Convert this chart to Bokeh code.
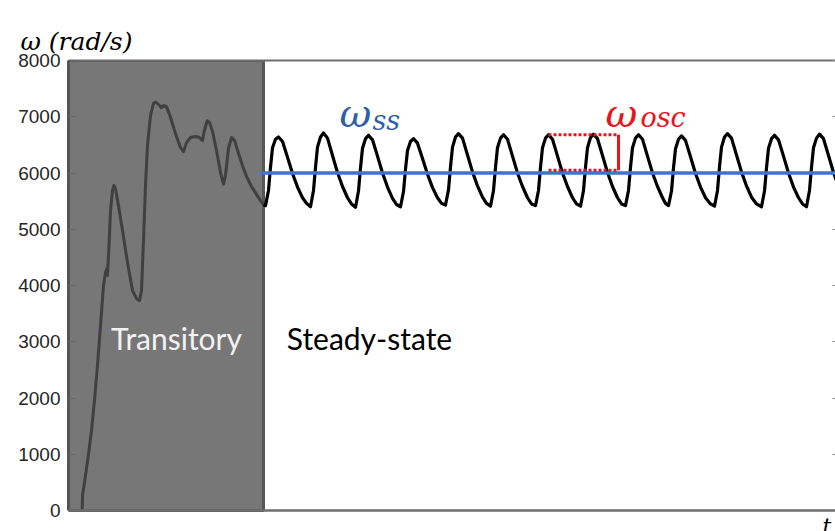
from bokeh.plotting import figure
from bokeh.models import Range1d, LinearAxis, FixedTicker, Label, Span
from bokeh.embed import file_html
from bokeh.resources import INLINE

# ---- data (time in ms, angular speed in rad/s) ----
y_ticks = [0, 1000, 2000, 3000, 4000, 5000, 6000, 7000, 8000]

trans_start = 0
trans_end = 195

t_trans = [13.7, 14, 17, 20, 23, 26, 29, 32, 35, 37, 38.5, 39, 40.5, 42, 44, 45.5, 47, 50, 54, 59,
           64, 68, 71, 73, 75, 77, 79, 82, 85, 87, 90, 93, 95, 98, 102, 107, 112, 115, 118, 122,
           127, 131, 134, 136, 138.7, 141, 144, 148, 152, 155, 157, 160, 163, 166, 170, 174, 178,
           183, 188, 192, 195]
w_trans = [0, 270, 620, 1000, 1420, 1960, 2580, 3290, 4000, 4230, 4300, 4180, 4710, 5330, 5690,
           5780, 5720, 5420, 4980, 4410, 3910, 3770, 3730, 3910, 4800, 5780, 6490, 7020, 7240,
           7260, 7220, 7160, 7200, 7180, 6990, 6700, 6450, 6380, 6540, 6630, 6650, 6630, 6580,
           6760, 6930, 6900, 6740, 6400, 6010, 5800, 5960, 6440, 6630, 6580, 6350, 6130, 5940,
           5760, 5620, 5510, 5440]

t_ss = [195, 197, 200, 202, 204, 207, 210, 214, 219, 224, 229, 234, 238,
        242, 245, 247, 249, 252, 255, 259, 264, 269, 274, 279, 283,
        287, 290, 292, 294, 297, 300, 304, 309, 314, 319, 324, 328,
        332, 335, 337, 339, 342, 345, 349, 354, 359, 364, 369, 373,
        377, 380, 382, 384, 387, 390, 394, 399, 404, 409, 414, 418,
        422, 425, 427, 429, 432, 435, 439, 444, 449, 454, 459, 463,
        467, 470, 472, 474, 477, 480, 484, 489, 494, 499, 504, 508,
        512, 515, 517, 519, 522, 525, 529, 534, 539, 544, 549, 553,
        557, 560, 562, 564, 567, 570, 574, 579, 584, 589, 594, 597,
        600, 603, 605, 607, 610, 613, 617, 622, 627, 632, 637, 642,
        646, 649, 651, 653, 656, 659, 663, 668, 673, 678, 683, 688,
        693, 696, 698, 700, 703, 706, 710, 715, 720, 725, 730, 734,
        738, 741, 743, 745, 748, 751, 755, 760, 765, 770]
w_ss = [5440, 5420, 5690, 6100, 6450, 6600, 6640, 6560, 6280, 5990, 5750, 5560, 5460,
        5400, 5690, 6100, 6460, 6640, 6710, 6620, 6310, 6010, 5760, 5560, 5450,
        5390, 5680, 6090, 6440, 6610, 6670, 6590, 6300, 6000, 5750, 5550, 5440,
        5400, 5670, 6070, 6400, 6560, 6610, 6530, 6260, 5980, 5740, 5560, 5460,
        5430, 5700, 6110, 6460, 6640, 6700, 6620, 6320, 6020, 5770, 5570, 5460,
        5410, 5690, 6100, 6450, 6620, 6680, 6600, 6300, 6000, 5760, 5560, 5450,
        5420, 5690, 6100, 6450, 6620, 6680, 6600, 6300, 6000, 5760, 5560, 5450,
        5410, 5690, 6100, 6450, 6630, 6690, 6610, 6310, 6010, 5760, 5560, 5450,
        5420, 5690, 6100, 6450, 6620, 6680, 6600, 6300, 6000, 5760, 5560, 5460,
        5420, 5680, 6090, 6430, 6600, 6660, 6580, 6290, 5990, 5750, 5560, 5450,
        5410, 5690, 6110, 6460, 6640, 6700, 6620, 6320, 6020, 5770, 5570, 5450,
        5400, 5680, 6090, 6440, 6610, 6670, 6590, 6300, 6000, 5750, 5560, 5450,
        5400, 5690, 6100, 6450, 6620, 6690, 6610, 6310, 6010, 5760]

w_steady = 6000
steady_t = [191, 770]

osc_t = [480, 550]
osc_low = 6050
osc_high = 6680

X_MAX = 767
Y_MIN = 0
Y_MAX = 8000
Y_VIEW_MIN = -373.3   # room under the time axis for its "t" label

# ---- figure ----
p = figure(width=835, height=531, output_backend="svg", toolbar_location=None,
           x_range=Range1d(0, X_MAX), y_range=Range1d(Y_VIEW_MIN, Y_MAX),
           min_border_left=68, min_border_right=0, min_border_top=60, min_border_bottom=0,
           x_axis_location=None, y_axis_location=None)
p.outline_line_color = None
p.grid.visible = False
p.background_fill_color = "white"
p.border_fill_color = "white"

p.title.text = "ω (rad/s)"
p.title.align = "left"
p.title.offset = -48
p.title.text_font = "DejaVu Serif"
p.title.text_font_style = "italic"
p.title.text_font_size = "25px"
p.title.text_color = "black"

tick_font = "Liberation Sans"

yaxis = LinearAxis(ticker=FixedTicker(ticks=y_ticks), bounds=(Y_MIN, Y_MAX))
yaxis.axis_line_color = "#555555"
yaxis.axis_line_width = 3
yaxis.major_tick_in = 7
yaxis.major_tick_out = 0
yaxis.major_tick_line_color = "#666666"
yaxis.minor_tick_line_color = None
yaxis.major_label_standoff = 8
yaxis.major_label_text_font = tick_font
yaxis.major_label_text_font_size = "19px"
yaxis.major_label_text_color = "#262626"
p.add_layout(yaxis, "left")

raxis = LinearAxis(ticker=FixedTicker(ticks=y_ticks), bounds=(Y_MIN, Y_MAX))
raxis.axis_line_color = None
raxis.major_tick_in = 3
raxis.major_tick_out = 0
raxis.major_tick_line_color = "#888888"
raxis.minor_tick_line_color = None
raxis.major_label_text_font_size = "0px"
raxis.major_label_standoff = 0
p.add_layout(raxis, "right")

# top frame line; its (invisible) outward tick length spaces the title off the plot
taxis = LinearAxis(ticker=FixedTicker(ticks=[]))
taxis.axis_line_color = "#6e6e6e"
taxis.axis_line_width = 2
taxis.major_tick_line_color = None
taxis.major_tick_in = 0
taxis.major_tick_out = 10
taxis.minor_tick_line_color = None
taxis.major_label_text_font_size = "0px"
taxis.major_label_standoff = 0
p.add_layout(taxis, "above")

# time axis line at zero speed
p.add_layout(Span(location=Y_MIN, dimension="width", line_color="#6e6e6e", line_width=2.5))

# transitory region
p.quad(left=[trans_start], right=[trans_end], bottom=[Y_MIN], top=[Y_MAX],
       fill_color="#777777", line_color="#565656", line_width=3)
p.line(t_trans, w_trans, line_color="#404040", line_width=3, line_join="round")

# steady-state oscillation and its mean
p.line(t_ss, w_ss, line_color="black", line_width=3.2, line_join="round")
p.line(steady_t, [w_steady, w_steady], line_color="#4472C4", line_width=3.5)

# oscillation amplitude marker
red = "#E8141C"
p.line(osc_t, [osc_high, osc_high], line_color=red, line_width=3, line_dash="3 2")
p.line(osc_t, [osc_low, osc_low], line_color=red, line_width=3, line_dash="3 2")
p.line([osc_t[1], osc_t[1]], [osc_low, osc_high], line_color=red, line_width=3)

# text
serif = "DejaVu Serif"
p.add_layout(Label(x=754, y=-290, text="t", text_font=serif, text_font_style="italic",
                   text_font_size="22px", text_color="black", text_baseline="alphabetic"))

p.add_layout(Label(x=271, y=7058, text="ω", text_font=serif, text_font_style="italic",
                   text_font_size="39px", text_color="#2F5FA8", text_baseline="alphabetic"))
p.add_layout(Label(x=304, y=6933, text="ss", text_font=serif, text_font_style="italic",
                   text_font_size="27px", text_color="#2F5FA8", text_baseline="alphabetic"))

p.add_layout(Label(x=537, y=7058, text="ω", text_font=serif, text_font_style="italic",
                   text_font_size="39px", text_color=red, text_baseline="alphabetic"))
p.add_layout(Label(x=572, y=6987, text="osc", text_font=serif, text_font_style="italic",
                   text_font_size="27px", text_color=red, text_baseline="alphabetic"))

p.add_layout(Label(x=108, y=3058, text="Transitory", text_font="Lato", text_font_size="30px",
                   text_color="#F2F2F2", text_align="center", text_baseline="middle"))
p.add_layout(Label(x=301, y=3058, text="Steady-state", text_font="Lato", text_font_size="30px",
                   text_color="black", text_align="center", text_baseline="middle"))

open("out.html", "w").write(file_html(p, INLINE))
